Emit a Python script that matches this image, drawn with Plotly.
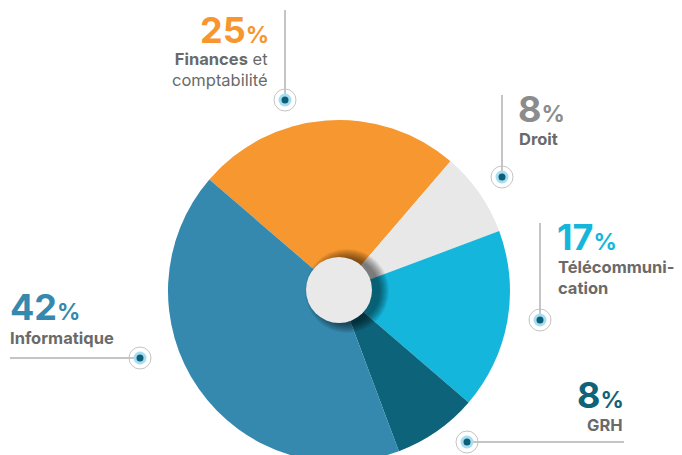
import plotly.graph_objects as go

# page body has an 8px margin; work in reference-pixel coordinates and shift
OFF = 8
W, H = 674, 462

labels = ["Finances et comptabilité", "Droit", "Télécommunication", "GRH", "Informatique"]
values = [25, 8, 17, 8, 42]
colors = ["#F7972F", "#E8E8E8", "#14B6DC", "#0D6379", "#3589AF"]
pct_colors = ["#F7962E", "#8C8C8C", "#15B6DC", "#0E6379", "#3589AF"]

FONT = "Inter"
TXT = "#6A6A6A"

def px(x):
    return (x - OFF) / W

def py(y):
    return 1 - (y - OFF) / H

cx, cy, R = 339, 291, 171

fig = go.Figure()
fig.add_trace(go.Pie(
    labels=labels, values=values, sort=False, direction="clockwise",
    rotation=-49.3, marker=dict(colors=colors, line=dict(width=0)),
    textinfo="none", hoverinfo="skip", showlegend=False,
    domain=dict(x=[px(cx - R), px(cx + R)], y=[py(cy + R), py(cy - R)]),
))

shapes = []

def circle(x, y, r, fill=None, line=None, lw=0, opacity=1.0):
    shapes.append(dict(type="circle", xref="paper", yref="paper",
                       x0=px(x - r), x1=px(x + r), y0=py(y + r), y1=py(y - r),
                       fillcolor=fill if fill else "rgba(0,0,0,0)",
                       line=dict(color=line if line else "rgba(0,0,0,0)", width=lw),
                       opacity=opacity, layer="above"))

def line(x0, y0, x1, y1):
    shapes.append(dict(type="line", xref="paper", yref="paper",
                       x0=px(x0), y0=py(y0), x1=px(x1), y1=py(y1),
                       line=dict(color="#8A8A8A", width=1), layer="above"))

# center shadow (offset to the right)
for i in range(10):
    circle(cx + 8, cy, 33 + 9 - i, fill="rgba(0,0,0,0.06)")
# center disc
circle(cx, cy - 1, 33, fill="#E9E9E9")

def marker(x, y):
    circle(x, y, 11, line="#C4C4C4", lw=1)
    circle(x, y, 6.5, fill="#A6DDF1")
    circle(x, y, 3.5, fill="#0D5F77")

line(285, 10, 285, 100); marker(285, 100)
line(502, 95, 502, 177); marker(502, 177)
line(540, 223, 540, 320); marker(540, 320)
line(467, 442, 624, 442); marker(467, 442)
line(10, 358, 140, 358); marker(140, 358)

annotations = []

def ann(x, y, text, xanchor, size, color):
    annotations.append(dict(xref="paper", yref="paper", x=px(x), y=py(y),
                            xanchor=xanchor, yanchor="middle", showarrow=False,
                            text=text, align=xanchor,
                            font=dict(family=FONT, size=size, color=color)))

def pct(v, x, y, xanchor, color):
    t = f"<b>{v}</b><b><span style='font-size:23px'>%</span></b>"
    ann(x, y, t, xanchor, 36, color)

LS = 16.5
# Finances
pct(values[0], 271, 30, "right", pct_colors[0])
ann(270, 69.5, "<b>Finances</b> et<br>comptabilité", "right", LS, TXT)
# Droit
pct(values[1], 516, 109, "left", pct_colors[1])
ann(517, 139, "<b>Droit</b>", "left", LS, TXT)
# Telecom
pct(values[2], 555, 237, "left", pct_colors[2])
ann(556, 277, "<b>Télécommuni-<br>cation</b>", "left", LS, TXT)
# GRH
pct(values[3], 626, 395, "right", pct_colors[3])
ann(625, 425, "<b>GRH</b>", "right", LS, TXT)
# Informatique
pct(values[4], 8, 307, "left", pct_colors[4])
ann(8, 338, "<b>Informatique</b>", "left", LS, TXT)

fig.update_layout(width=W, height=H, margin=dict(l=0, r=0, t=0, b=0),
                  paper_bgcolor="white", plot_bgcolor="white",
                  shapes=shapes, annotations=annotations)

fig.write_html("out.html")
